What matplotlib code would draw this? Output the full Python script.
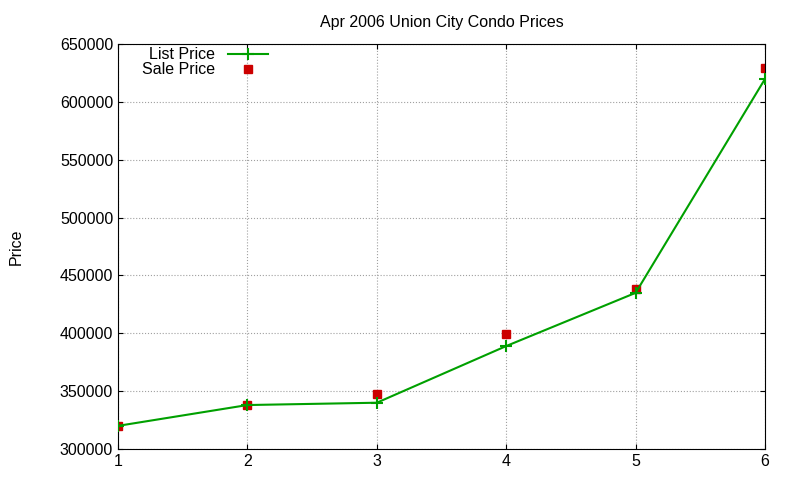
import matplotlib
matplotlib.use("Agg")
import matplotlib.pyplot as plt

plt.rcParams['font.family'] = ['Liberation Sans', 'DejaVu Sans']

x = [1, 2, 3, 4, 5, 6]
list_price = [320000, 338000, 340000, 389000, 435000, 620000]
sale_price = [320000, 338000, 347500, 399000, 438000, 629000]
yticks = [300000, 350000, 400000, 450000, 500000, 550000, 600000, 650000]

fig = plt.figure(figsize=(8, 4.8), dpi=100)
ax = fig.add_axes([0.1475, 0.0646, 0.8088, 0.8434])
ax.plot(x, list_price, color="#00a000", lw=1.5, marker="+", ms=8, mew=1.5, label="List Price", zorder=3)
ax.plot(x, sale_price, ls="none", marker="s", ms=6, color="#cc0000", label="Sale Price", zorder=2)
ax.set_xlim(1, 6)
ax.set_ylim(300000, 650000)
ax.set_xticks(x)
ax.set_yticks(yticks)
ax.tick_params(direction="in", labelsize=11.5, top=True, right=True)
ax.grid(True, color="#a0a0a0", ls=":", lw=0.8)
ax.set_title("Apr 2006 Union City Condo Prices", fontsize=11.5, pad=12)
ax.set_ylabel("Price", fontsize=11.5, labelpad=26)
leg = ax.legend(loc="upper left", frameon=False, fontsize=11.5, markerfirst=False,
                bbox_to_anchor=(0.02, 1.02), handlelength=2.5, borderpad=0.2, labelspacing=0.0)
for t in leg.get_texts():
    t.set_ha("right")
fig.savefig("out.png", dpi=100)
